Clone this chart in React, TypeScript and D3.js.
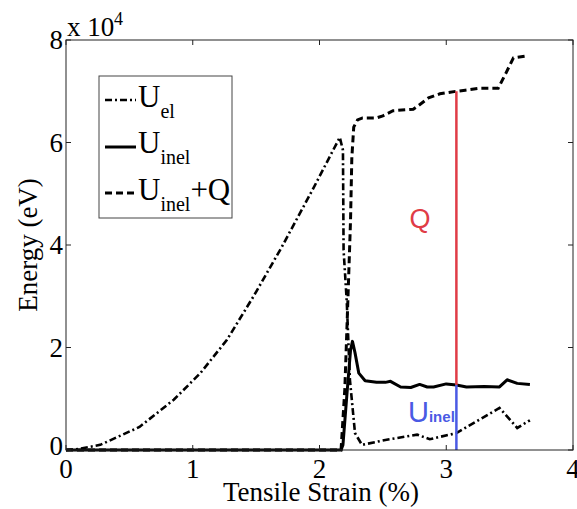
import React from "react";
import * as d3 from "d3";

// ---- data (energy in eV, strain in %) ----
const strainEl = [0, 0.1, 0.27, 0.58, 0.85, 1.06, 1.27, 1.48, 1.7, 1.95, 2.16, 2.185, 2.19, 2.215, 2.24, 2.28, 2.335, 2.53, 2.77, 2.87, 3.08, 3.42, 3.56, 3.66];
const energyEl = [0, 200, 1000, 4500, 9800, 15000, 21500, 30000, 39500, 51000, 61000, 58500, 39000, 29000, 13700, 3300, 1000, 2000, 3000, 2100, 3300, 8200, 4300, 5800];

const strainInel = [0, 2.17, 2.185, 2.22, 2.245, 2.26, 2.28, 2.31, 2.36, 2.45, 2.52, 2.56, 2.64, 2.72, 2.79, 2.85, 2.9, 3.0, 3.08, 3.16, 3.3, 3.42, 3.48, 3.56, 3.66];
const energyInel = [0, 0, 1000, 12000, 19500, 21200, 19000, 15000, 13500, 13200, 13200, 13400, 12300, 12200, 12800, 12300, 12300, 12900, 12700, 12300, 12400, 12300, 13700, 13000, 12800];

const strainInelQ = [0, 2.17, 2.2, 2.225, 2.245, 2.255, 2.27, 2.3, 2.34, 2.45, 2.5, 2.58, 2.74, 2.78, 2.86, 2.95, 3.08, 3.15, 3.27, 3.41, 3.47, 3.53, 3.64];
const energyInelQ = [0, 0, 12000, 30000, 45000, 57000, 63000, 64400, 64800, 64800, 65200, 66200, 66500, 67200, 68700, 69500, 70000, 70200, 70600, 70600, 73500, 76500, 76900];

const qStrain = 3.08;
const qTop = 70000;
const qMid = 12700;

const xTicks = [0, 1, 2, 3, 4];
const yTicks = [0, 20000, 40000, 60000, 80000];
const yTickLabels = ["0", "2", "4", "6", "8"];

const W = 577, H = 509;
const L = 66, R = 573, T = 40, B = 450;

export default function App() {
  const x = d3.scaleLinear().domain([0, 4]).range([L, R]);
  const y = d3.scaleLinear().domain([0, 80000]).range([B, T]);
  const mk = (xs: number[], ys: number[]) =>
    d3.line<number>().x((_, i) => x(xs[i])).y((d) => y(d))(ys) || "";

  const serifStyle = { fontFamily: `"Liberation Serif", "Times New Roman", Tinos, monospace` };
  const sansStyle = { fontFamily: `"Liberation Sans", Arial, monospace` };
  const red = "#e03c46";
  const blue = "#4a5ae4";
  const axisCol = "#222";
  const tickLen = 5;

  return (
    <svg width={W} height={H} style={{ position: "absolute", left: 0, top: 0, background: "#fff" }}>
      <rect x={0} y={0} width={W} height={H} fill="#fff" />
      {/* curves */}
      <path d={mk(strainEl, energyEl)} fill="none" stroke="#000" strokeWidth={2.6} strokeDasharray="7,3,2,3" />
      <path d={mk(strainInel, energyInel)} fill="none" stroke="#000" strokeWidth={3} strokeLinejoin="round" />
      <path d={mk(strainInelQ, energyInelQ)} fill="none" stroke="#000" strokeWidth={3} strokeDasharray="7,4" />
      {/* Q / Uinel markers */}
      <line x1={x(qStrain)} x2={x(qStrain)} y1={y(qTop)} y2={y(qMid)} stroke={red} strokeWidth={2.5} />
      <line x1={x(qStrain)} x2={x(qStrain)} y1={y(qMid)} y2={y(0)} stroke={blue} strokeWidth={2.5} />
      <text x={420} y={228} fill={red} style={sansStyle} fontSize={27} textAnchor="middle">Q</text>
      <text x={408} y={422} fill={blue} style={sansStyle} fontSize={29}>
        U<tspan fontSize={15} fontWeight="bold">inel</tspan>
      </text>

      {/* frame */}
      <rect x={L} y={T} width={R - L} height={B - T} fill="none" stroke={axisCol} strokeWidth={1} />
      {xTicks.map((t) => (
        <g key={"x" + t}>
          <line x1={x(t)} x2={x(t)} y1={B} y2={B - tickLen} stroke={axisCol} />
          <line x1={x(t)} x2={x(t)} y1={T} y2={T + tickLen} stroke={axisCol} />
          <text x={x(t)} y={478} style={serifStyle} fontSize={27} textAnchor="middle">{t}</text>
        </g>
      ))}
      {yTicks.map((t, i) => (
        <g key={"y" + t}>
          <line x1={L} x2={L + tickLen} y1={y(t)} y2={y(t)} stroke={axisCol} />
          <line x1={R} x2={R - tickLen} y1={y(t)} y2={y(t)} stroke={axisCol} />
          <text x={63} y={y(t) + (t === 0 ? 5 : 9)} style={serifStyle} fontSize={27} textAnchor="end">{yTickLabels[i]}</text>
        </g>
      ))}
      <text x={67} y={36} style={serifStyle} fontSize={27}>x 10</text>
      <text x={114} y={25} style={serifStyle} fontSize={18}>4</text>

      <text x={321} y={501} style={serifStyle} fontSize={27} textAnchor="middle">Tensile Strain (%)</text>
      <text transform={`translate(37,${(T + B) / 2}) rotate(-90)`} style={serifStyle} fontSize={27} textAnchor="middle">Energy (eV)</text>

      {/* legend */}
      <rect x={99} y={76} width={133} height={142} fill="#fff" stroke="#444" strokeWidth={1} />
      <line x1={105} x2={136} y1={100} y2={100} stroke="#000" strokeWidth={2.6} strokeDasharray="7,3,2,3" />
      <line x1={105} x2={136} y1={147} y2={147} stroke="#000" strokeWidth={3} />
      <line x1={105} x2={136} y1={193} y2={193} stroke="#000" strokeWidth={3} strokeDasharray="7,4" />
      <text x={138} y={107} style={serifStyle} fontSize={31}>
        U<tspan fontSize={20} dy={11}>el</tspan>
      </text>
      <text x={138} y={153} style={serifStyle} fontSize={31}>
        U<tspan fontSize={20} dy={11}>inel</tspan>
      </text>
      <text x={138} y={200} style={serifStyle} fontSize={31}>
        U<tspan fontSize={20} dy={11}>inel</tspan><tspan dy={-11}>+Q</tspan>
      </text>
    </svg>
  );
}
